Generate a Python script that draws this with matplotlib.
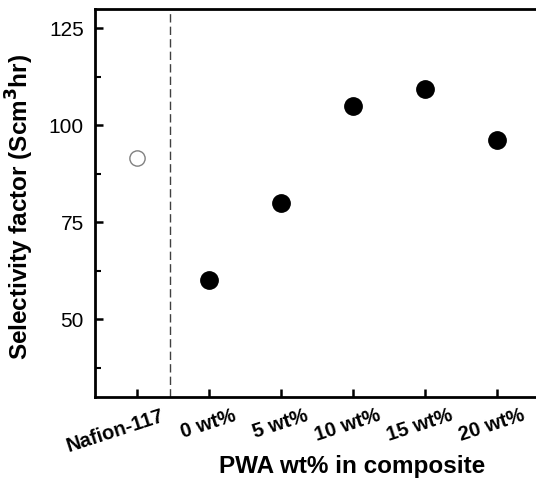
import matplotlib
matplotlib.use('Agg')
import matplotlib.pyplot as plt
import matplotlib.transforms as mtransforms

plt.rcParams['font.family'] = ['Liberation Sans', 'DejaVu Sans']

labels = ['Nafion-117', '0 wt%', '5 wt%', '10 wt%', '15 wt%', '20 wt%']
nafion_value = 91.6
composite_values = [60.1, 80.0, 105.1, 109.5, 96.3]

fig = plt.figure(figsize=(5.36, 4.82), dpi=100)
ax = fig.add_axes([95/536, 1-397/482, (540-95)/536, (397-9)/482])

xs = list(range(len(labels)))
ax.plot([xs[0]], [nafion_value], 'o', mfc='white', mec='#808080', mew=1.0, ms=11)
ax.plot(xs[1:], composite_values, 'o', color='black', ms=12.5, ls='none')
ax.axvline(0.46, color='#404040', lw=1.0, ls=(0, (6, 3)))

ax.set_xlim(-0.58, 5.6)
ax.set_ylim(30, 130)
ax.set_yticks([50, 75, 100, 125])
ax.set_yticks([37.5, 62.5, 87.5, 112.5], minor=True)
ax.set_xticks(xs)
ax.set_xticklabels([])

# rotated category labels, shifted right of their ticks
offset = mtransforms.ScaledTranslation(0.24, -0.09, fig.dpi_scale_trans)
for x, lab in zip(xs, labels):
    ax.text(x, 0, lab, transform=ax.get_xaxis_transform() + offset,
            fontsize=14.5, fontweight='bold', rotation=18,
            ha='right', va='top', rotation_mode='anchor')

ax.tick_params(axis='both', which='major', direction='in', length=6, width=1.8)
ax.tick_params(axis='y', which='minor', direction='in', length=4, width=1.5)
ax.tick_params(axis='y', labelsize=15, pad=8)
for s in ax.spines.values():
    s.set_linewidth(2)

ax.set_xlabel('PWA wt% in composite', fontsize=17.5, fontweight='bold')
ax.xaxis.set_label_coords((352-95)/445, -(455-397)/388)
ax.set_ylabel('Selectivity factor (Scm$^{\\mathbf{3}}$hr)', fontsize=17.5, fontweight='bold')
ax.yaxis.set_label_coords(-(95-36)/445, 0.49)

fig.savefig('out.png', dpi=100)
